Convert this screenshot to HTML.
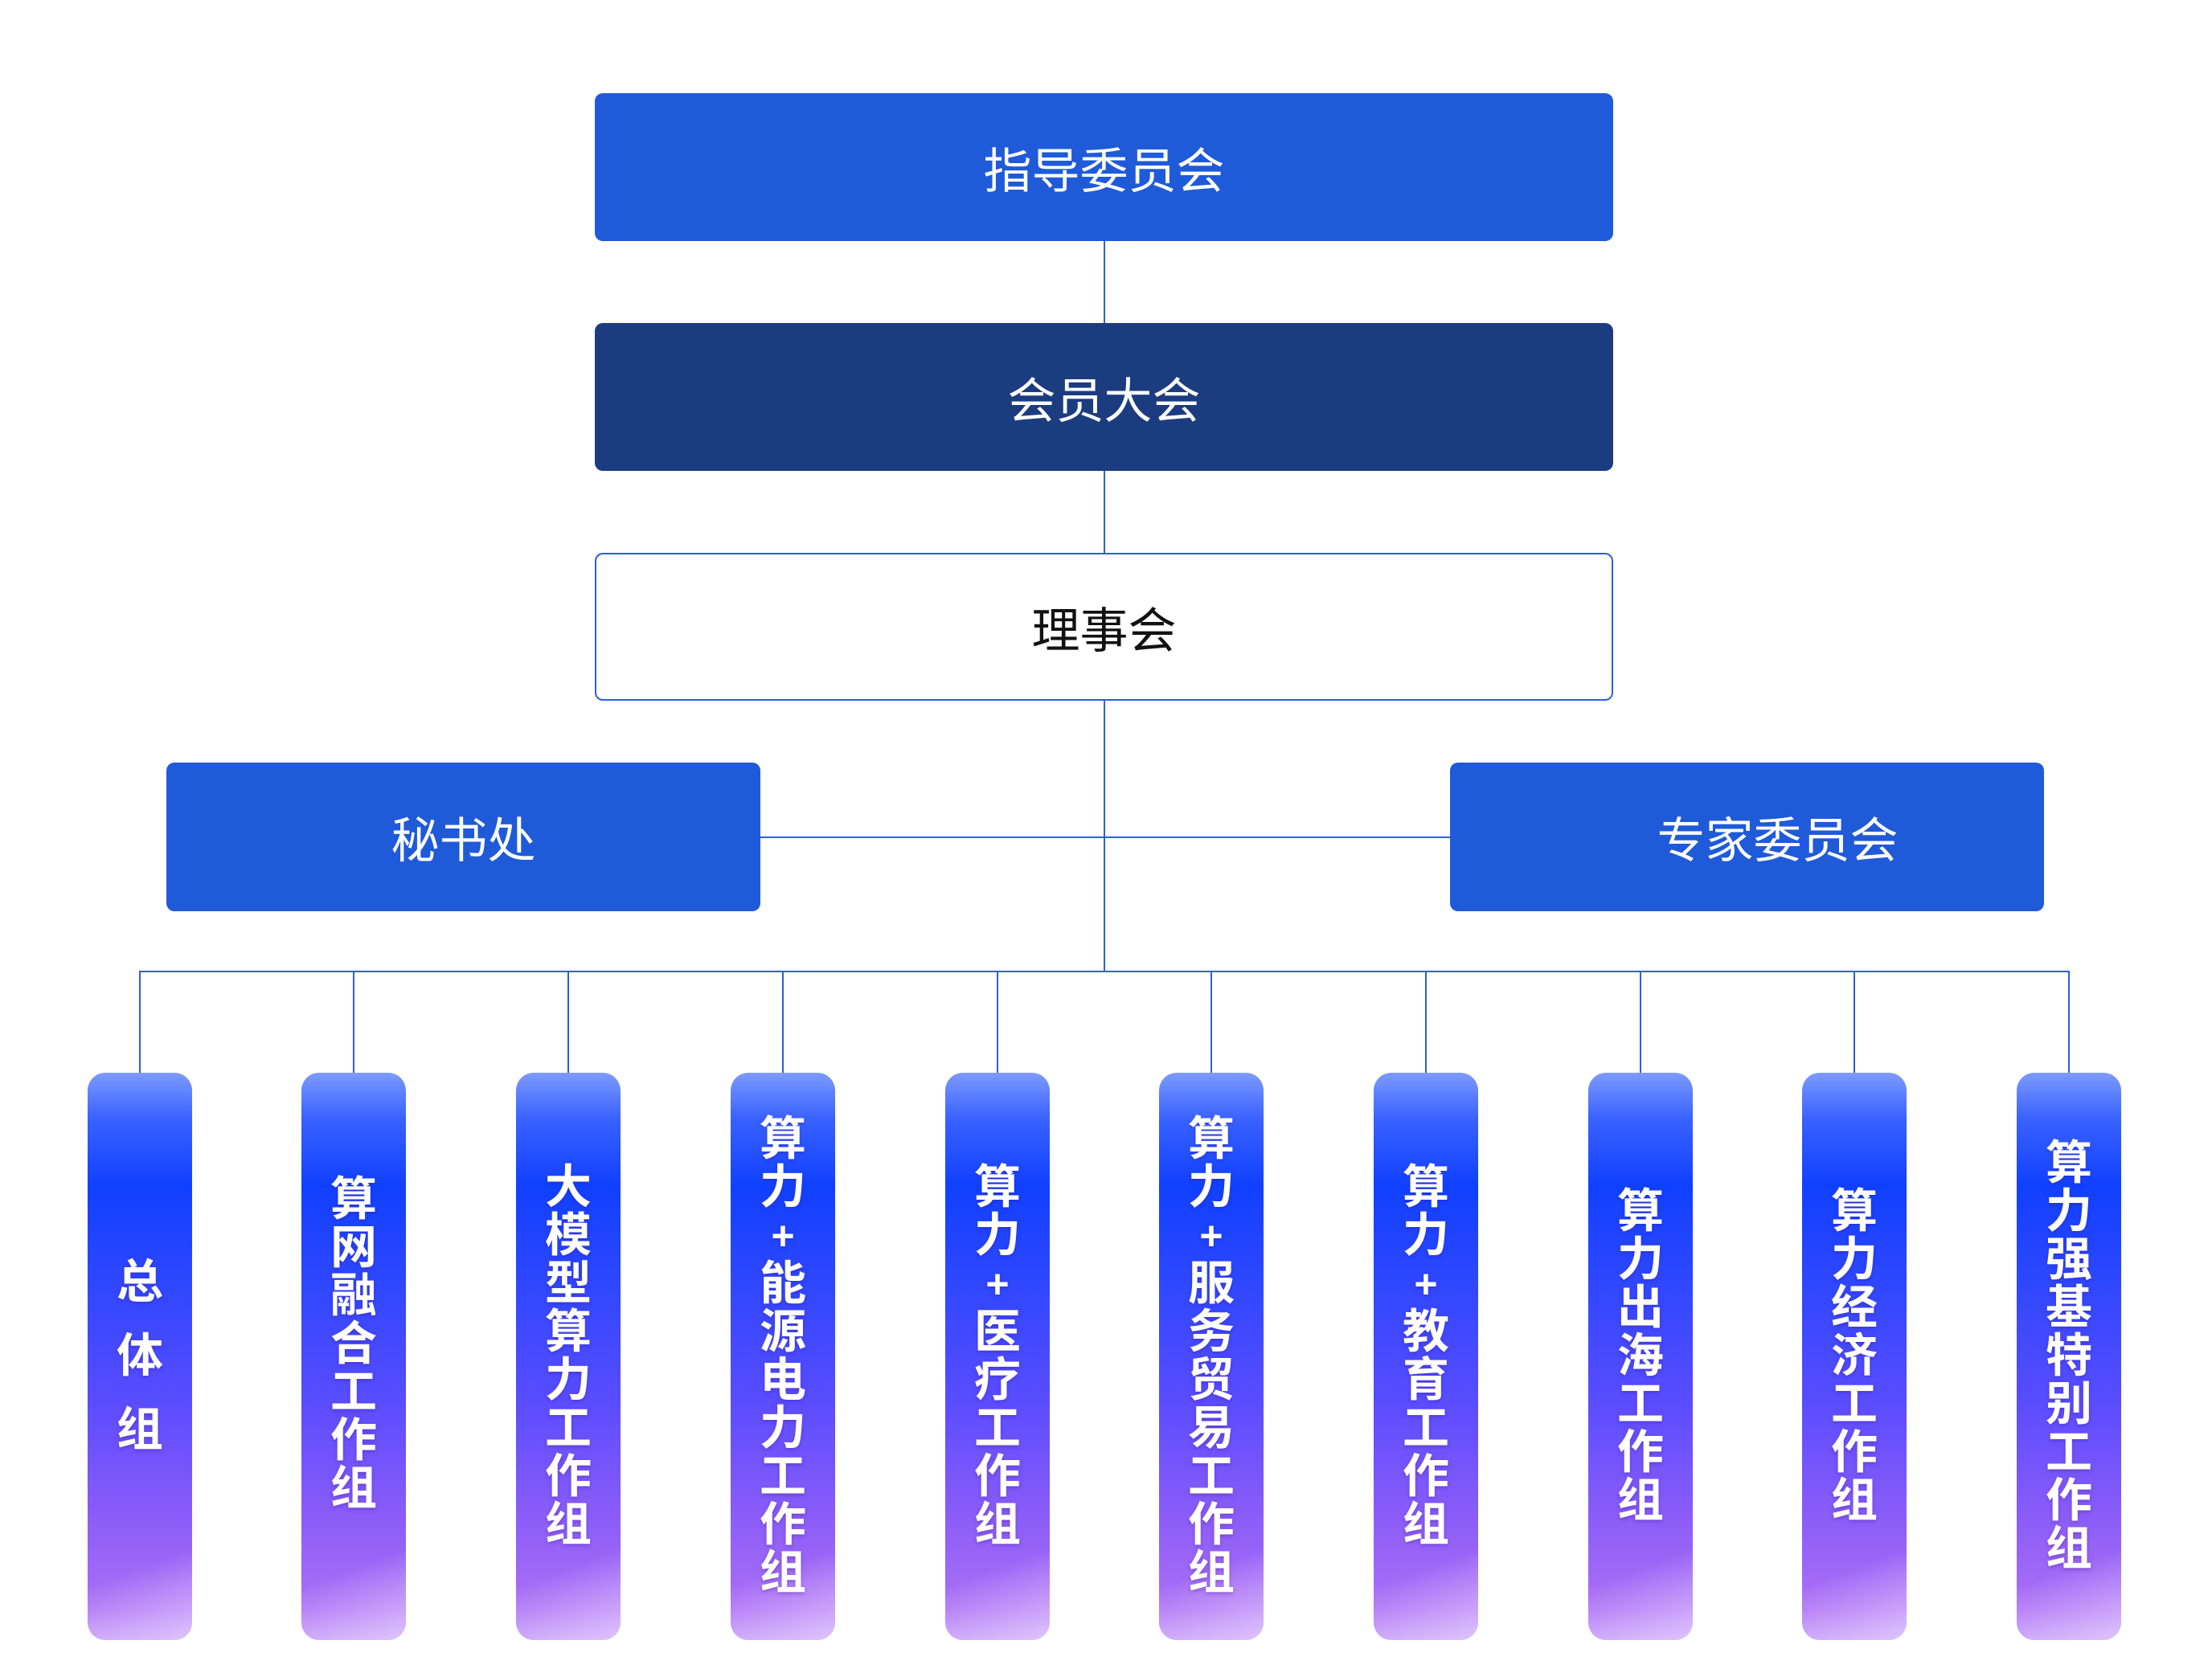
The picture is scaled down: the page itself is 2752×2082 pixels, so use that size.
<!DOCTYPE html>
<html><head><meta charset="utf-8"><style>
html,body{margin:0;padding:0;background:#fff;}
body{width:2752px;height:2082px;position:relative;overflow:hidden;font-family:"Liberation Sans","Noto Sans CJK SC",sans-serif;}
.box{position:absolute;display:flex;align-items:center;justify-content:center;color:#fff;font-size:60px;border-radius:10px;box-sizing:border-box;}
.ln{position:absolute;background:#2f5fd8;}
.p{position:absolute;top:1335px;width:130px;height:706px;border-radius:22px;overflow:hidden;
background:linear-gradient(180deg,#7d9bff 0%,#3a62ff 8%,#1040ff 20%,#3448ff 40%,#5a4cff 58%,#8a5cf8 78%,#ad70f5 95%,#b98af6 100%);
display:flex;flex-direction:column;align-items:center;justify-content:center;color:#fff;font-weight:bold;font-size:58px;line-height:60px;text-shadow:0 2px 4px rgba(60,20,140,.35);}
.p::after{content:"";position:absolute;left:0;right:0;bottom:0;height:160px;background:linear-gradient(160deg,rgba(255,255,255,0) 45%,rgba(235,215,255,.75) 100%);}
.p span{display:block;position:relative;z-index:1;}
.p .pl{font-size:50px;}
</style></head><body>
<div class="ln" style="left:1373px;top:300px;width:2px;height:102px"></div>
<div class="ln" style="left:1373px;top:586px;width:2px;height:102px"></div>
<div class="ln" style="left:1373px;top:872px;width:2px;height:338px"></div>
<div class="ln" style="left:946px;top:1041px;width:858px;height:2px"></div>
<div class="ln" style="left:173px;top:1208px;width:2402px;height:2px"></div>
<div class="ln" style="left:173px;top:1208px;width:2px;height:127px"></div>
<div class="ln" style="left:439px;top:1208px;width:2px;height:127px"></div>
<div class="ln" style="left:706px;top:1208px;width:2px;height:127px"></div>
<div class="ln" style="left:973px;top:1208px;width:2px;height:127px"></div>
<div class="ln" style="left:1240px;top:1208px;width:2px;height:127px"></div>
<div class="ln" style="left:1506px;top:1208px;width:2px;height:127px"></div>
<div class="ln" style="left:1773px;top:1208px;width:2px;height:127px"></div>
<div class="ln" style="left:2040px;top:1208px;width:2px;height:127px"></div>
<div class="ln" style="left:2306px;top:1208px;width:2px;height:127px"></div>
<div class="ln" style="left:2573px;top:1208px;width:2px;height:127px"></div>

<div class="box" style="left:740px;top:116px;width:1267px;height:184px;background:#1f5ad8;">指导委员会</div>
<div class="box" style="left:740px;top:402px;width:1267px;height:184px;background:#1c3c80;">会员大会</div>
<div class="box" style="left:740px;top:688px;width:1267px;height:184px;background:#fff;border:2px solid #2f5fd8;color:#111;">理事会</div>
<div class="box" style="left:207px;top:949px;width:739px;height:185px;background:#1f5ad8;">秘书处</div>
<div class="box" style="left:1804px;top:949px;width:739px;height:185px;background:#1f5ad8;padding-left:76px;">专家委员会</div>

<div class="p" style="left:109px;line-height:92px"><span>总</span><span>体</span><span>组</span></div>
<div class="p" style="left:375px;padding-bottom:30px;box-sizing:border-box"><span>算</span><span>网</span><span>融</span><span>合</span><span>工</span><span>作</span><span>组</span></div>
<div class="p" style="left:642px"><span>大</span><span>模</span><span>型</span><span>算</span><span>力</span><span>工</span><span>作</span><span>组</span></div>
<div class="p" style="left:909px"><span>算</span><span>力</span><span class="pl">+</span><span>能</span><span>源</span><span>电</span><span>力</span><span>工</span><span>作</span><span>组</span></div>
<div class="p" style="left:1176px"><span>算</span><span>力</span><span class="pl">+</span><span>医</span><span>疗</span><span>工</span><span>作</span><span>组</span></div>
<div class="p" style="left:1442px"><span>算</span><span>力</span><span class="pl">+</span><span>服</span><span>务</span><span>贸</span><span>易</span><span>工</span><span>作</span><span>组</span></div>
<div class="p" style="left:1709px"><span>算</span><span>力</span><span class="pl">+</span><span>教</span><span>育</span><span>工</span><span>作</span><span>组</span></div>
<div class="p" style="left:1976px"><span>算</span><span>力</span><span>出</span><span>海</span><span>工</span><span>作</span><span>组</span></div>
<div class="p" style="left:2242px"><span>算</span><span>力</span><span>经</span><span>济</span><span>工</span><span>作</span><span>组</span></div>
<div class="p" style="left:2509px"><span>算</span><span>力</span><span>强</span><span>基</span><span>特</span><span>别</span><span>工</span><span>作</span><span>组</span></div>
</body></html>
